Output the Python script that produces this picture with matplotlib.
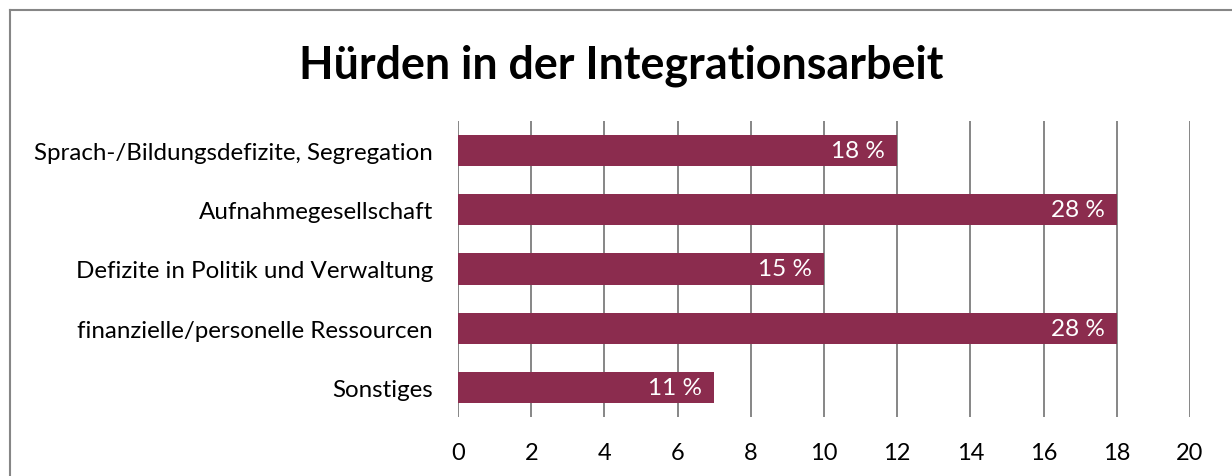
import matplotlib
matplotlib.use("Agg")
import matplotlib.pyplot as plt
from matplotlib.lines import Line2D

categories = ["Sprach-/Bildungsdefizite, Segregation", "Aufnahmegesellschaft",
              "Defizite in Politik und Verwaltung", "finanzielle/personelle Ressourcen",
              "Sonstiges"]
values = [12, 18, 10, 18, 7]
labels = ["18 %", "28 %", "15 %", "28 %", "11 %"]
xticks = [0, 2, 4, 6, 8, 10, 12, 14, 16, 18, 20]

W, H = 1232, 477
fig = plt.figure(figsize=(W / 100, H / 100), dpi=100)
plt.rcParams['font.family'] = ['Lato', 'DejaVu Sans']
ax = fig.add_axes([458 / W, 1 - 418 / H, (1190 - 458) / W, (418 - 122) / H])

grid_c = "#868686"
bar_c = "#8B2C4E"
ypos = list(range(len(categories)))
bars = ax.barh(ypos, values, height=0.53, color=bar_c, zorder=3)
for b, lab in zip(bars, labels):
    ax.text(b.get_width() - 0.33, b.get_y() + b.get_height() / 2, lab,
            ha="right", va="center", color="white", fontsize=17.5, zorder=4)

ax.set_xlim(0, 20)
ax.set_ylim(len(categories) - 0.5, -0.5)
ax.set_xticks(xticks)
ax.set_yticks(ypos)
ax.set_yticklabels(categories, fontsize=17.4)
ax.tick_params(axis="x", length=0, pad=18, labelsize=17)
ax.tick_params(axis="y", length=0, pad=18)
for x in xticks:
    ax.axvline(x, color=grid_c, lw=1.4, zorder=1)
for s in ax.spines.values():
    s.set_visible(False)

fig.text(621 / W, 1 - 66 / H, "Hürden in der Integrationsarbeit", ha="center", va="center",
         fontsize=32.3, fontweight="bold")

fig.add_artist(Line2D([9.5 / W, 9.5 / W], [0, 1 - 11 / H], color=grid_c, lw=1.5,
                      transform=fig.transFigure))
fig.add_artist(Line2D([9.5 / W, 1], [1 - 11 / H, 1 - 11 / H], color=grid_c, lw=1.5,
                      transform=fig.transFigure))

fig.savefig("out.png", dpi=100)
